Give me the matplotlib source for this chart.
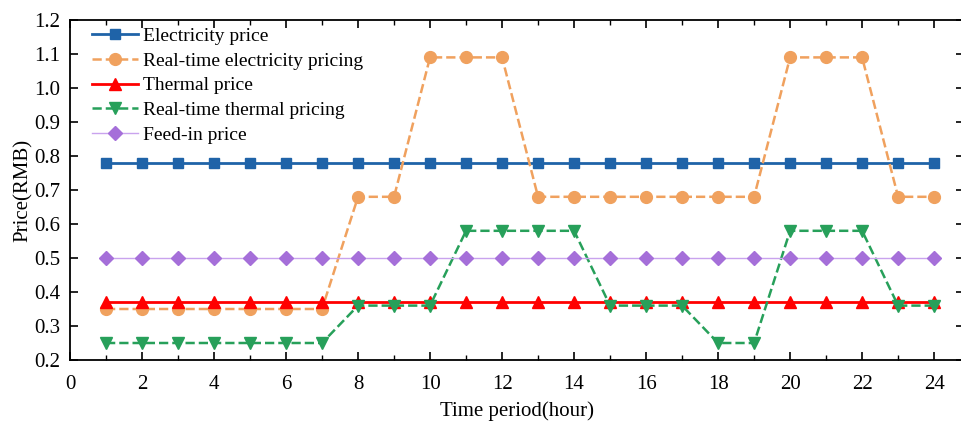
import matplotlib
matplotlib.use("Agg")
import matplotlib.pyplot as plt
from matplotlib.ticker import MultipleLocator, FormatStrFormatter

plt.rcParams['font.family'] = ['Liberation Serif', 'DejaVu Serif']

# hours 1..24
hours = list(range(1, 25))
electricity = [0.78] * 24
rt_electricity = [0.35] * 7 + [0.68] * 2 + [1.09] * 3 + [0.68] * 7 + [1.09] * 3 + [0.68] * 2
thermal = [0.37] * 24
rt_thermal = [0.25] * 7 + [0.36] * 3 + [0.58] * 4 + [0.36] * 3 + [0.25] * 2 + [0.58] * 3 + [0.36] * 2
feed_in = [0.50] * 24

fig = plt.figure(figsize=(9.62, 4.28), dpi=100)
# right spine sits just past the image edge, like the reference
ax = fig.add_axes([70 / 962, 68 / 428, 894 / 962, 340 / 428])

ax.plot(hours, electricity, color='#1f63a8', lw=2, marker='s', ms=7, label='Electricity price')
ax.plot(hours, rt_electricity, color='#f0a15e', lw=1.8, ls='--', marker='o', ms=8.5,
        label='Real-time electricity pricing')
ax.plot(hours, thermal, color='#ff0000', lw=2, marker='^', ms=8.5, label='Thermal price')
ax.plot(hours, rt_thermal, color='#27a05a', lw=1.8, ls='--', marker='v', ms=8.5,
        label='Real-time thermal pricing')
ax.plot(hours, feed_in, color='#c9a3ee', lw=1, marker='D', ms=7, mfc='#a56fd9', mec='#a56fd9',
        label='Feed-in price')

ax.set_xlim(0, 24.83)
ax.set_ylim(0.2, 1.2)
ax.xaxis.set_major_locator(MultipleLocator(2))
ax.xaxis.set_minor_locator(MultipleLocator(1))
ax.yaxis.set_major_locator(MultipleLocator(0.1))
ax.yaxis.set_major_formatter(FormatStrFormatter('%.1f'))
ax.tick_params(which='both', direction='in', top=True, right=True, labelsize=15)
ax.tick_params(which='major', length=6, width=1.2)
ax.tick_params(which='minor', length=3.5, width=1)
ax.tick_params(axis='x', pad=11)
ax.tick_params(axis='y', pad=7)
for s in ax.spines.values():
    s.set_linewidth(1.3)

ax.set_xlabel('Time period(hour)', fontsize=15, labelpad=5)
ax.set_ylabel('Price(RMB)', fontsize=15, labelpad=1)

ax.legend(loc='upper left', bbox_to_anchor=(0.0246, 0.978), frameon=False, fontsize=14,
          handlelength=2.37, labelspacing=0.36, borderaxespad=0, handletextpad=0.25,
          borderpad=0)

fig.savefig('out.png', dpi=100)
